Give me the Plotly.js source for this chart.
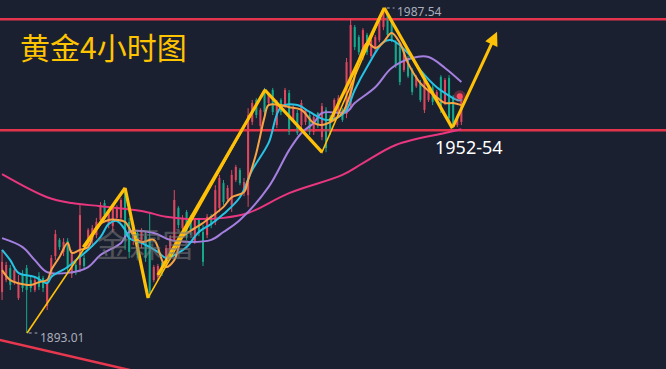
<!DOCTYPE html>
<html><head><meta charset="utf-8">
<script src="https://cdn.plot.ly/plotly-3.0.1.min.js"></script>
<style>html,body{margin:0;padding:0;background:#1b2030;}#chart{width:666px;height:369px;}</style>
</head><body><div id="chart"></div>
<script>
// 4-hour gold candles (price)
const open  = [1904.9,1908.4,1911.9,1907.8,1903.2,1909.9,1911.9,1908.4,1905.5,1909.6,1909.0,1900.9,1910.5,1915.4,1920.1,1916.6,1919.8,1910.2,1912.8,1912.8,
1914.8,1918.3,1920.1,1921.5,1925.9,1930.8,1924.7,1924.1,1926.5,1926.5,1934.0,1925.3,1920.1,1922.1,1919.2,1921.2,1920.1,1908.4,1909.3,1913.4,
1913.1,1915.7,1920.1,1929.4,1923.5,1928.2,1926.8,1919.8,1925.9,1922.4,1921.5,1927.0,1925.3,1929.4,1936.6,1932.0,1930.2,1937.5,1940.4,1934.0,
1933.1,1954.4,1960.8,1953.2,1963.1,1959.9,1963.7,1953.5,1960.8,1959.0,1962.8,1955.0,1957.0,1953.5,1954.4,1956.4,1951.5,1957.0,1950.0,1957.9,
1955.5,1955.8,1956.7,1957.9,1956.7,1959.3,1982.0,1979.1,1973.9,1979.7,1973.6,1975.6,1978.2,1982.0,1985.8,1984.0,1977.4,1976.2,1969.5,1973.0,
1969.5,1964.8,1965.7,1957.9,1960.8,1964.5,1961.1,1967.5,1960.2,1967.2,1961.3,1953.5,1954.4];
const high  = [1917.2,1913.7,1912.8,1912.5,1909.9,1911.3,1912.8,1909.9,1909.0,1910.7,1909.6,1908.4,1915.7,1923.0,1920.6,1920.6,1920.6,1917.2,1913.7,1930.2,
1915.7,1923.5,1924.4,1926.5,1931.1,1931.7,1928.8,1930.2,1930.2,1932.3,1935.2,1926.5,1925.3,1923.0,1923.5,1922.4,1927.9,1912.8,1913.1,1914.2,
1918.6,1921.5,1934.6,1929.9,1927.3,1928.8,1927.3,1926.5,1926.5,1924.4,1927.6,1927.6,1936.0,1939.0,1937.5,1936.0,1940.4,1941.9,1941.0,1938.1,
1958.4,1960.8,1961.3,1958.4,1964.3,1963.1,1964.3,1960.8,1961.3,1964.3,1963.7,1959.3,1957.9,1960.8,1958.4,1957.3,1956.4,1957.3,1959.9,1958.7,
1956.4,1961.3,1962.2,1958.4,1973.0,1984.6,1982.6,1979.7,1981.7,1980.3,1978.8,1979.7,1984.6,1987.54,1986.4,1984.6,1978.2,1976.8,1975.3,1973.6,
1970.1,1968.0,1966.6,1967.2,1965.1,1965.1,1963.7,1968.0,1967.2,1968.0,1962.2,1956.4,1961.9];
const low   = [1902.6,1907.8,1905.5,1907.0,1902.6,1904.9,1893.01,1904.9,1904.9,1905.5,1904.9,1899.7,1909.0,1914.2,1917.2,1915.4,1910.7,1909.0,1909.9,1910.7,
1911.3,1917.2,1918.6,1920.6,1924.4,1926.5,1923.5,1922.4,1925.3,1925.3,1917.2,1914.8,1918.6,1914.8,1917.7,1913.7,1903.2,1907.8,1908.4,1909.6,
1911.9,1914.2,1918.0,1923.5,1922.4,1920.1,1921.5,1918.9,1921.2,1912.5,1920.6,1923.5,1924.4,1928.2,1930.2,1931.1,1928.2,1936.9,1936.0,1932.8,
1929.7,1953.5,1955.5,1952.0,1956.4,1959.3,1956.4,1952.6,1956.4,1958.4,1950.6,1954.4,1950.6,1952.6,1953.5,1950.6,1950.6,1952.6,1949.1,1945.6,
1950.6,1955.0,1955.5,1954.4,1955.5,1957.9,1975.3,1973.9,1972.4,1973.9,1973.0,1974.7,1977.6,1981.1,1978.8,1977.6,1970.1,1965.1,1968.9,1967.2,
1962.2,1964.3,1960.2,1957.0,1960.2,1959.3,1960.8,1957.0,1959.3,1954.1,1952.6,1952.9,1953.5];
const close = [1913.7,1912.8,1907.0,1911.3,1907.5,1906.1,1905.5,1906.1,1908.4,1906.4,1906.1,1907.3,1914.8,1921.8,1918.0,1919.5,1911.9,1916.0,1910.7,1927.3,
1912.5,1923.0,1923.5,1925.3,1930.2,1927.3,1927.9,1929.4,1929.4,1931.7,1920.1,1916.6,1924.4,1915.7,1923.0,1914.8,1904.9,1912.2,1912.5,1910.5,
1917.7,1920.6,1931.7,1924.4,1926.5,1921.2,1923.0,1925.9,1922.1,1913.7,1926.8,1924.4,1934.6,1938.1,1931.1,1935.2,1939.0,1941.3,1936.6,1936.9,
1956.4,1959.9,1956.4,1957.9,1957.3,1962.8,1957.3,1959.9,1957.3,1963.7,1951.5,1958.4,1951.2,1959.9,1957.9,1951.5,1955.8,1953.5,1959.0,1946.8,
1951.5,1960.8,1961.3,1955.0,1971.8,1982.6,1976.2,1974.7,1981.1,1974.7,1978.2,1979.1,1984.0,1987.0,1979.7,1978.2,1971.0,1966.0,1974.7,1967.7,
1963.1,1967.5,1960.8,1966.6,1964.5,1960.2,1963.1,1957.9,1966.6,1955.5,1953.5,1955.8,1961.9];

// moving averages (bar index, price)
const maFastX = [0,2,4,7,9,11,12,14,16,17,19,21,23,26,28,30,32,34,37,39,40,42,44,47,49,51,54,56,59,60,62,64,65,68,70,73,76,78,81,83,85,87,89,91,93,95,97,99,102,106,108,110,112];
const maFastY = [1911.3,1908.4,1907.5,1907.0,1907.8,1908.4,1911.3,1915.1,1919.2,1916.3,1917.2,1918.0,1923.8,1925.9,1925.9,1925.3,1921.5,1919.5,1920.1,1914.2,1912.2,1914.2,1920.9,1923.5,1925.0,1926.8,1929.7,1932.5,1934.0,1937.5,1945.4,1955.8,1959.3,1959.3,1958.7,1957.9,1954.1,1953.5,1955.0,1957.0,1962.8,1972.4,1977.4,1975.9,1977.6,1980.3,1977.4,1971.5,1965.7,1961.6,1959.9,1959.9,1959.3];
const maMidX = [0,2,4,8,11,12,16,18,21,24,26,28,30,31,34,38,40,43,45,48,51,54,58,61,65,68,72,75,79,82,84,86,89,93,95,99,102,106,108,111,112];
const maMidY = [1917.2,1914.2,1910.5,1909.3,1907.5,1909.3,1912.2,1914.2,1917.2,1920.9,1924.7,1925.6,1923.0,1920.6,1919.2,1916.6,1914.8,1916.3,1918.0,1922.4,1924.7,1927.6,1932.5,1940.4,1948.3,1958.7,1959.3,1957.3,1955.0,1955.8,1957.9,1963.7,1970.4,1977.6,1978.2,1974.4,1969.5,1964.5,1962.8,1960.8,1960.8];
const maSlowX = [0,5,8,11,16,21,24,29,31,37,41,46,51,54,58,65,70,73,76,78,84,86,91,95,100,104,108,112];
const maSlowY = [1920.6,1918.0,1914.2,1910.7,1910.5,1912.2,1915.7,1919.2,1922.4,1922.1,1920.1,1919.5,1920.1,1922.4,1925.9,1935.5,1946.2,1951.2,1954.1,1957.0,1957.3,1959.9,1964.5,1970.1,1973.0,1973.3,1970.1,1966.0];
const maLongX = [0,11,17,24,34,40,45,54,60,70,83,88,96,108,112];
const maLongY = [1939.2,1932.5,1930.8,1929.9,1928.5,1926.8,1926.2,1926.5,1927.9,1933.7,1939.0,1942.4,1947.7,1951.2,1952.3];

// levels and swing analysis
const resistance = 1984.3;
const support = 1952.0;
const trendX = [-1, 40];
const trendY = [1891.1, 1879.8];
const swingX = [6.1, 30, 35.6, 64.1, 78, 93.2, 109.8];
const swingY = [1893.01, 1935.2, 1903.2, 1963.7, 1945.6, 1987.54, 1952.6];
const boldLegs = [
  [[19.8, 30], [1918.0, 1935.2]],
  [[30, 35.6], [1935.2, 1903.2]],
  [[38, 64.1], [1909.9, 1963.7]],
  [[64.1, 78], [1963.7, 1945.6]],
  [[80, 93.2], [1954.7, 1987.54]],
  [[93.2, 109.8], [1987.54, 1952.6]]
];
const forecast = {fromX: 109.8, fromY: 1952.6, toX: 120.7, toY: 1980.6};
const peakLabel = '1987.54', lowLabel = '1893.01', zoneLabel = '1952-54';
const titleText = '黄金4小时图';
const watermark = '金霖富';

const UP = '#e0475e', DN = '#16a88b', GOLD = '#ffc107';
const idx = open.map((_, i) => i);
const traces = [];
const XR = [-0.5, 161.9];

traces.push({x: XR, y: [resistance, resistance], mode: 'lines', line: {color: '#e3344c', width: 2.5}});
traces.push({x: XR, y: [support, support], mode: 'lines', line: {color: '#e3344c', width: 2.5}});
traces.push({x: trendX, y: trendY, mode: 'lines', line: {color: '#e8384f', width: 2.5}});

// wicks
function wick(cond, color) {
  const wx = [], wy = [];
  idx.forEach(i => { if (cond(i)) { wx.push(i, i, null); wy.push(low[i], high[i], null); } });
  return {x: wx, y: wy, mode: 'lines', line: {color: color, width: 1}};
}
traces.push(wick(i => close[i] >= open[i], UP));
traces.push(wick(i => close[i] < open[i], DN));
traces.push({type: 'bar', x: idx,
  base: idx.map(i => Math.min(open[i], close[i])),
  y: idx.map(i => Math.max(Math.abs(close[i] - open[i]), 0.3)),
  width: 0.5, marker: {color: idx.map(i => close[i] >= open[i] ? UP : DN), line: {width: 0}}});

traces.push({x: maLongX, y: maLongY, mode: 'lines', line: {color: '#e8367f', width: 2, shape: 'spline'}});
traces.push({x: maSlowX, y: maSlowY, mode: 'lines', line: {color: '#a47fe0', width: 2, shape: 'spline'}});
traces.push({x: maMidX, y: maMidY, mode: 'lines', line: {color: '#26c4e4', width: 2, shape: 'spline'}});
traces.push({x: maFastX, y: maFastY, mode: 'lines', line: {color: '#f7a445', width: 2, shape: 'spline'}});

traces.push({x: swingX, y: swingY, mode: 'lines', line: {color: GOLD, width: 1.6}});
boldLegs.forEach(s => traces.push({x: s[0], y: s[1], mode: 'lines', line: {color: GOLD, width: 3.2}}));

// dotted leaders to price labels
traces.push({x: [swingX[5] + 0.6, swingX[5] + 2.5], y: [swingY[5], swingY[5]], mode: 'lines', line: {color: '#a9aebb', width: 1.2, dash: 'dot'}});
traces.push({x: [swingX[0] + 0.4, swingX[0] + 2.5], y: [swingY[0], swingY[0]], mode: 'lines', line: {color: '#a9aebb', width: 1.2, dash: 'dot'}});

// last price glowing dot
const lastI = idx.length - 1;
traces.push({x: [lastI - 0.4], y: [close[lastI]], mode: 'markers', marker: {size: 12, color: 'rgba(255,70,90,0.3)'}});
traces.push({x: [lastI - 0.4], y: [close[lastI]], mode: 'markers', marker: {size: 6, color: '#ff4b5f'}});

const layout = {
  width: 666, height: 369, margin: {l: 0, r: 0, t: 0, b: 0},
  paper_bgcolor: '#1b2030', plot_bgcolor: '#1b2030', showlegend: false,
  xaxis: {range: XR, visible: false, fixedrange: true},
  yaxis: {range: [1882.54, 1989.87], visible: false, fixedrange: true},
  annotations: [
    {xref: 'paper', yref: 'paper', x: 18/666, y: 1 - 46/369, xanchor: 'left', yanchor: 'middle', showarrow: false,
     text: titleText, font: {family: 'Noto Sans CJK SC', size: 30, color: '#ffc400'}},
    {xref: 'x', yref: 'y', x: swingX[5] + 2.6, y: swingY[5], xanchor: 'left', yanchor: 'middle', yshift: -3, showarrow: false,
     text: peakLabel, font: {family: 'Noto Sans', size: 12, color: '#a9aebb'}},
    {xref: 'x', yref: 'y', x: swingX[0] + 2.6, y: swingY[0], xanchor: 'left', yanchor: 'middle', yshift: -4, showarrow: false,
     text: lowLabel, font: {family: 'Noto Sans', size: 12, color: '#a9aebb'}},
    {xref: 'paper', yref: 'paper', x: 433/666, y: 1 - 147/369, xanchor: 'left', yanchor: 'middle', showarrow: false,
     text: zoneLabel, font: {family: 'Noto Sans', size: 18, color: '#ffffff'}},
    {xref: 'paper', yref: 'paper', x: 145/666, y: 1 - 243/369, xanchor: 'center', yanchor: 'middle', showarrow: false,
     text: watermark, font: {family: 'Noto Sans CJK SC', size: 33, color: 'rgba(125,125,125,0.55)'}},
    {xref: 'x', yref: 'y', axref: 'x', ayref: 'y', x: forecast.toX, y: forecast.toY, ax: forecast.fromX, ay: forecast.fromY,
     text: '', showarrow: true, arrowhead: 2, arrowsize: 0.9, arrowwidth: 3, arrowcolor: GOLD}
  ]
};
Plotly.newPlot('chart', traces.map(t => Object.assign({hoverinfo: 'skip'}, t.type ? t : Object.assign({type: 'scatter'}, t))), layout, {staticPlot: true, displayModeBar: false});
</script></body></html>
